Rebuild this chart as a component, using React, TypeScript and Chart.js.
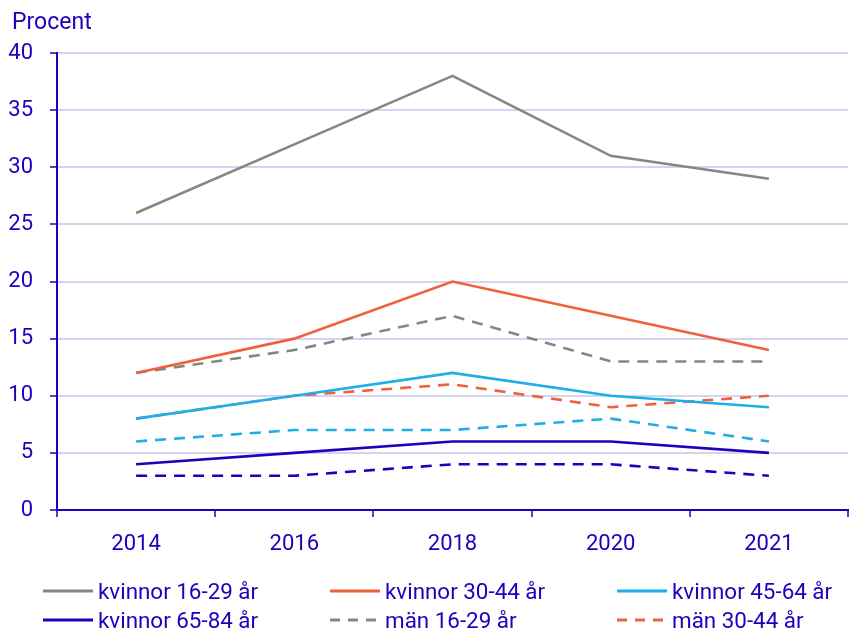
import React, { useEffect, useRef } from "react";
import { Chart, registerables } from "chart.js";

Chart.register(...registerables);

const categories = ["2014", "2016", "2018", "2020", "2021"];
const yTickValues = [0, 5, 10, 15, 20, 25, 30, 35, 40];
const yTitle = "Procent";

const seriesNames = [
  "kvinnor 16-29 år",
  "kvinnor 30-44 år",
  "kvinnor 45-64 år",
  "kvinnor 65-84 år",
  "män 16-29 år",
  "män 30-44 år",
  "män 45-64 år",
  "män 65-84 år",
];

const kvinnor1629 = [26, 32, 38, 31, 29];
const kvinnor3044 = [12, 15, 20, 17, 14];
const kvinnor4564 = [8, 10, 12, 10, 9];
const kvinnor6584 = [4, 5, 6, 6, 5];
const man1629 = [12, 14, 17, 13, 13];
const man3044 = [8, 10, 11, 9, 10];
const man4564 = [6, 7, 7, 8, 6];
const man6584 = [3, 3, 4, 4, 3];

const seriesValues = [
  kvinnor1629,
  kvinnor3044,
  kvinnor4564,
  kvinnor6584,
  man1629,
  man3044,
  man4564,
  man6584,
];

const GRAY = "#878782";
const ORANGE = "#f0603c";
const LIGHTBLUE = "#1eaee8";
const DARKBLUE = "#1e00be";
const TEXT = "#1e00be";
const GRID = "#d4d4f2";

const seriesColors = [GRAY, ORANGE, LIGHTBLUE, DARKBLUE, GRAY, ORANGE, LIGHTBLUE, DARKBLUE];
const seriesDashed = [false, false, false, false, true, true, true, true];
const legendCount = 6;

const FONT = "Roboto, 'Noto Sans', sans-serif";
const DASH = [11, 8];

const titlePlugin = {
  id: "procentTitle",
  afterDraw(chart: any) {
    const ctx = chart.ctx;
    ctx.save();
    ctx.fillStyle = TEXT;
    ctx.font = `23px ${FONT}`;
    ctx.textAlign = "left";
    ctx.textBaseline = "alphabetic";
    ctx.fillText(yTitle, 12, 29);
    ctx.restore();
  },
};

export default function App() {
  const canvasRef = useRef<HTMLCanvasElement | null>(null);

  useEffect(() => {
    document.body.style.margin = "0";
    const canvas = canvasRef.current;
    if (!canvas) return;
    const chart = new Chart(canvas, {
      type: "line",
      data: {
        labels: categories,
        datasets: seriesNames.map((name, i) => ({
          label: name,
          data: seriesValues[i],
          borderColor: seriesColors[i],
          backgroundColor: seriesColors[i],
          borderWidth: 2.6,
          borderDash: seriesDashed[i] ? DASH : [],
          pointRadius: 0,
          pointHoverRadius: 0,
          tension: 0,
          fill: false,
        })),
      },
      options: {
        animation: false,
        responsive: false,
        maintainAspectRatio: false,
        layout: { padding: { top: 53, right: 3, bottom: 80, left: 0 } },
        plugins: {
          legend: { display: false },
          tooltip: { enabled: false },
          title: { display: false },
        },
        scales: {
          x: {
            type: "category",
            offset: true,
            afterFit(scale: any) {
              scale.height = 40;
            },
            grid: {
              offset: true,
              drawOnChartArea: true,
              drawTicks: true,
              tickLength: 7,
              tickWidth: 1.5,
              tickColor: DARKBLUE,
              color: (ctx: any) => (ctx.index === categories.length ? GRID : "rgba(0,0,0,0)"),
              lineWidth: 2,
            },
            border: { display: true, color: DARKBLUE, width: 2 },
            ticks: {
              color: TEXT,
              font: { family: FONT, size: 22 },
              padding: 14,
              maxRotation: 0,
            },
          },
          y: {
            min: 0,
            max: 40,
            afterFit(scale: any) {
              scale.width = 57;
            },
            afterBuildTicks(scale: any) {
              scale.ticks = yTickValues.map((v) => ({ value: v }));
            },
            grid: {
              color: GRID,
              lineWidth: 2,
              drawTicks: true,
              tickLength: 7,
              tickWidth: 1.5,
              tickColor: DARKBLUE,
            },
            border: { display: true, color: DARKBLUE, width: 2 },
            ticks: {
              color: TEXT,
              font: { family: FONT, size: 22 },
              padding: 17,
              stepSize: 5,
            },
          },
        },
      },
      plugins: [titlePlugin],
    });
    return () => chart.destroy();
  }, []);

  const legendItems = seriesNames.slice(0, legendCount).map((name, i) => ({
    name,
    color: seriesColors[i],
    dashed: seriesDashed[i],
  }));

  return (
    <div style={{ position: "relative", width: 851, height: 630, overflow: "hidden" }}>
      <canvas ref={canvasRef} width={851} height={630} style={{ display: "block" }} />
      <div
        style={{
          position: "absolute",
          left: 43,
          top: 576,
          display: "grid",
          gridTemplateColumns: "287px 287px 240px",
          gridAutoRows: "29.5px",
          fontFamily: FONT,
          fontSize: 22.4,
          color: TEXT,
        }}
      >
        {legendItems.map((it) => (
          <div key={it.name} style={{ display: "flex", alignItems: "center", whiteSpace: "nowrap" }}>
            <svg width={50} height={6} style={{ marginRight: 5, flex: "none" }}>
              <line
                x1={0}
                y1={3}
                x2={50}
                y2={3}
                stroke={it.color}
                strokeWidth={3}
                strokeDasharray={it.dashed ? "10 8" : undefined}
              />
            </svg>
            <span>{it.name}</span>
          </div>
        ))}
      </div>
    </div>
  );
}
